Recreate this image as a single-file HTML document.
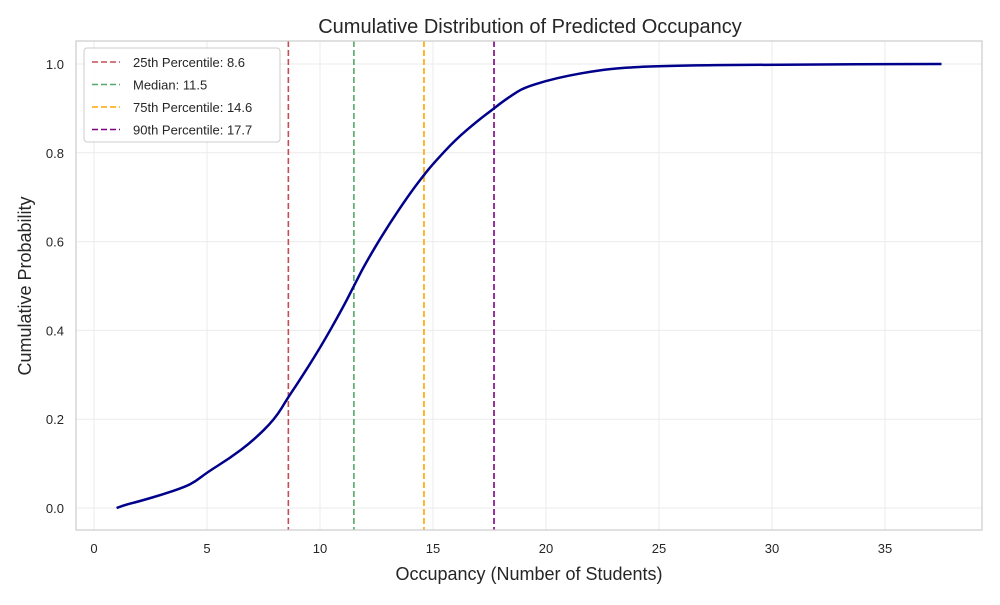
<!DOCTYPE html>
<html><head><meta charset="utf-8"><style>
body{margin:0;background:#fff;font-family:"Liberation Sans",sans-serif;}
svg text{font-family:"Liberation Sans",sans-serif;fill:#262626;}
</style></head><body>
<svg id="chart" width="1000" height="600">
<rect x="0" y="0" width="1000" height="600" fill="#fff"/>
<text x="530" y="33" text-anchor="middle" font-size="20">Cumulative Distribution of Predicted Occupancy</text>
<g id="grid"></g><g id="xt"></g><g id="yt"></g><g id="lines"></g>
<rect x="76" y="41" width="906" height="489" fill="none" stroke="#ccc" stroke-width="1.2"/>
<text x="529" y="580" text-anchor="middle" font-size="18">Occupancy (Number of Students)</text>
<text transform="translate(31,286) rotate(-90)" text-anchor="middle" font-size="18">Cumulative Probability</text>
<g id="legend"></g>
</svg>
<script>
const xTicks=[0,5,10,15,20,25,30,35];
const yTicks=[0.0,0.2,0.4,0.6,0.8,1.0];
const cdfX=[1,1.3,2,3,4,4.5,5,6,7,8,8.6,9,10,11,11.5,12,13,14,14.6,15,16,17,17.7,18,18.5,19,20,21,22,23,25,30,37.5];
const cdfY=[0,0.006,0.015,0.03,0.047,0.06,0.08,0.112,0.15,0.2,0.25,0.28,0.36,0.45,0.5,0.55,0.635,0.71,0.75,0.775,0.83,0.873,0.9,0.912,0.93,0.946,0.962,0.974,0.983,0.99,0.996,0.999,1.0];
const pctLabels=["25th Percentile: 8.6","Median: 11.5","75th Percentile: 14.6","90th Percentile: 17.7"];
const pctValues=[8.6,11.5,14.6,17.7];
const pctColors=["#c44e52","#55a868","orange","purple"];
const NS="http://www.w3.org/2000/svg";
const X=v=>94+v*22.6, Y=v=>508-v*444;
function mk(t,a,p){const e=document.createElementNS(NS,t);for(const k in a)e.setAttribute(k,a[k]);document.getElementById(p).appendChild(e);return e;}
xTicks.forEach(t=>{
 const g=mk('line',{x1:X(t),x2:X(t),y1:41,y2:530,stroke:'#ebebeb'},'grid');
 
 
 const l=mk('text',{x:X(t),y:553,'text-anchor':'middle','font-size':13},'xt');l.textContent=t;
 
 
});
yTicks.forEach(t=>{
 const g=mk('line',{x1:76,x2:982,y1:Y(t),y2:Y(t),stroke:'#ebebeb'},'grid');
 
 
 const l=mk('text',{x:64,y:Y(t)+5,'text-anchor':'end','font-size':13},'yt');l.textContent=t.toFixed(1);
 
 
});
pctValues.forEach((v,i)=>{
 const l=mk('line',{x1:X(v),x2:X(v),y1:41,y2:530,stroke:pctColors[i],'stroke-width':1.6,'stroke-dasharray':'6,3'},'lines');
 
 
});
// smooth path via quadratic through midpoints
const pts=cdfX.map((x,i)=>[X(x),Y(cdfY[i])]);
let d='M'+pts[0][0]+','+pts[0][1];
for(let i=1;i<pts.length-1;i++){
 const mx=(pts[i][0]+pts[i+1][0])/2,my=(pts[i][1]+pts[i+1][1])/2;
 d+='Q'+pts[i][0]+','+pts[i][1]+' '+mx+','+my;
}
d+='L'+pts[pts.length-1][0]+','+pts[pts.length-1][1];
const p=mk('path',{d:d,fill:'none',stroke:'#00008b','stroke-width':2.5,'stroke-linejoin':'round'},'lines');


const bx=mk('rect',{x:84,y:48,width:196,height:94,rx:3,fill:'#fff','fill-opacity':0.85,stroke:'#ccc'},'legend');


pctLabels.forEach((s,i)=>{
 const y=62+i*22.5;
 const l=mk('line',{x1:92,x2:120,y1:y,y2:y,stroke:pctColors[i],'stroke-width':1.6,'stroke-dasharray':'6,3'},'legend');
 
 
 const t=mk('text',{x:133,y:y+5,'font-size':13},'legend');t.textContent=s;
 
 
});
</script>
</body></html>
